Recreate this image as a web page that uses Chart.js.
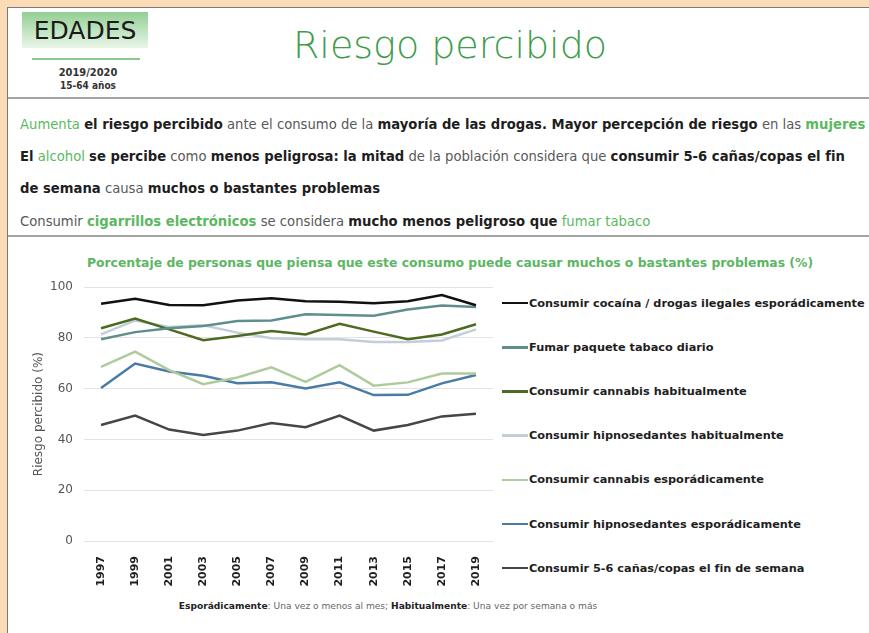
<!DOCTYPE html>
<html lang="es">
<head>
<meta charset="utf-8">
<title>Riesgo percibido</title>
<script src="https://cdn.jsdelivr.net/npm/chart.js@4.4.1/dist/chart.umd.min.js"></script>
<style>
  html, body { margin: 0; padding: 0; }
  body {
    width: 869px; height: 633px; overflow: hidden; position: relative;
    background: #fcdcb6; font-family: 'DejaVu Sans', sans-serif;
  }
  .panel {
    position: absolute; left: 7px; top: 7px; width: 900px; height: 700px;
    background: #fff; border-left: 1px solid #7a7a7a; border-top: 1px solid #7a7a7a;
  }
  .logo {
    position: absolute; left: 22px; top: 12px; width: 126px; height: 36px;
    background: linear-gradient(#93cf93, #e9f6e9);
    font-size: 25px; color: #1a1a1a; text-align: center; line-height: 37px;
  }
  .logo-line { position: absolute; left: 32px; top: 58px; width: 108px; height: 2px; background: #8cc78c; }
  .sub { position: absolute; left: 40px; width: 96px; text-align: center; color: #333; font-weight: bold;
    font-family: 'Liberation Sans Narrow', 'DejaVu Sans Condensed', sans-serif; }
  .title {
    position: absolute; left: 0; width: 900px; top: 23px; text-align: center;
    font-size: 38px; font-weight: 300; color: #3f9c4c;
  }
  .sep { position: absolute; left: 8px; width: 861px; height: 2px; background: #a3a3a3; }
  .txt { position: absolute; left: 20px; font-size: 13.2px; color: #595959; white-space: nowrap; }
  .txt b { color: #1e1e1e; }
  .txt .g { color: #5bb85f; }
  .txt b.g { color: #5bb85f; }
  .ctitle {
    position: absolute; left: 0; width: 900px; top: 255px; text-align: center;
    font-size: 12.4px; font-weight: bold; color: #5cb663; white-space: nowrap;
  }
  #wrap { position: absolute; left: 20px; top: 269px; width: 480px; height: 319px; }
  #legend { position: absolute; left: 502px; top: 281px; }
  .li { height: 44.2px; display: flex; align-items: center; font-size: 11.3px; font-weight: bold; color: #1e1e1e; white-space: nowrap; }
  .li span.sw { display: inline-block; width: 26px; height: 2.5px; margin-right: 1px; }
  .foot { position: absolute; left: 0; width: 776px; top: 601px; text-align: center; font-size: 9.1px; color: #666; white-space: nowrap; }
  .foot b { color: #222; }
</style>
</head>
<body>
<div class="panel"></div>
<div class="logo">EDADES</div>
<div class="logo-line"></div>
<div class="sub" style="top:66px;font-size:11px;">2019/2020</div>
<div class="sub" style="top:80px;font-size:10px;">15-64 años</div>
<div class="title">Riesgo percibido</div>
<div class="sep" style="top:97px;"></div>

<div class="txt" style="top:117px;"><span class="g">Aumenta</span> <b>el riesgo percibido</b> ante el consumo de la <b>mayoría de las drogas. Mayor percepción de riesgo</b> en las <b class="g">mujeres</b></div>
<div class="txt" style="top:149px;"><b>El</b> <span class="g">alcohol</span> <b>se percibe</b> como <b>menos peligrosa: la mitad</b> de la población considera que <b>consumir 5-6 cañas/copas el fin</b></div>
<div class="txt" style="top:181px;"><b>de semana</b> causa <b>muchos o bastantes problemas</b></div>
<div class="txt" style="top:214px;">Consumir <b class="g">cigarrillos electrónicos</b> se considera <b>mucho menos peligroso que</b> <span class="g">fumar tabaco</span></div>
<div class="sep" style="top:235px;"></div>

<div class="ctitle">Porcentaje de personas que piensa que este consumo puede causar muchos o bastantes problemas (%)</div>
<div id="wrap"><canvas id="chart"></canvas></div>
<div id="legend"></div>
<div class="foot"><b>Esporádicamente</b>: Una vez o menos al mes; <b>Habitualmente</b>: Una vez por semana o más</div>

<script>
const years = ['1997', '1999', '2001', '2003', '2005', '2007', '2009', '2011', '2013', '2015', '2017', '2019'];

const cocaina = [93.5, 95.4, 93.0, 92.9, 94.8, 95.6, 94.5, 94.3, 93.7, 94.5, 96.9, 92.9];
const tabacoDiario = [79.5, 82.3, 83.8, 84.7, 86.7, 86.9, 89.3, 89.0, 88.8, 91.2, 92.8, 92.2];
const cannabisHab = [83.8, 87.6, 83.4, 79.1, 80.8, 82.7, 81.4, 85.6, 82.5, 79.5, 81.4, 85.4];
const hipnoHab = [81.4, 86.9, 84.3, 85.0, 82.1, 79.9, 79.5, 79.5, 78.4, 78.4, 79.0, 83.4];
const cannabisEsp = [68.6, 74.6, 67.3, 61.8, 64.4, 68.4, 62.7, 69.3, 61.2, 62.5, 66.0, 66.0];
const hipnoEsp = [60.3, 69.9, 66.8, 65.1, 62.2, 62.5, 60.1, 62.5, 57.5, 57.6, 62.1, 65.4];
const alcoholFinde = [45.7, 49.4, 43.9, 41.8, 43.5, 46.5, 44.8, 49.4, 43.5, 45.7, 49.1, 50.1];

const seriesNames = [
  'Consumir cocaína / drogas ilegales esporádicamente',
  'Fumar paquete tabaco diario',
  'Consumir cannabis habitualmente',
  'Consumir hipnosedantes habitualmente',
  'Consumir cannabis esporádicamente',
  'Consumir hipnosedantes esporádicamente',
  'Consumir 5-6 cañas/copas el fin de semana'
];
const seriesData = [cocaina, tabacoDiario, cannabisHab, hipnoHab, cannabisEsp, hipnoEsp, alcoholFinde];
const seriesColors = ['#111111', '#5e8f8c', '#4c6a20', '#c3ced9', '#aecb9b', '#4a7ba4', '#4a4545'];

const FONT = "'DejaVu Sans', sans-serif";

const chart = new Chart(document.getElementById('chart'), {
  type: 'line',
  data: {
    labels: years,
    datasets: seriesNames.map((name, i) => ({
      label: name,
      data: seriesData[i],
      borderColor: seriesColors[i],
      backgroundColor: seriesColors[i],
      borderWidth: 2.5,
      pointRadius: 0,
      tension: 0
    }))
  },
  options: {
    responsive: true,
    maintainAspectRatio: false,
    animation: false,
    layout: { padding: { top: 7, right: 7, bottom: 0, left: 0 } },
    plugins: {
      legend: { display: false },
      tooltip: { enabled: false }
    },
    scales: {
      x: {
        offset: true,
        grid: { display: false },
        border: { display: false },
        ticks: {
          minRotation: 90, maxRotation: 90, padding: 7,
          color: '#1e1e1e', font: { family: FONT, size: 11, weight: 'bold' }
        },
        afterFit: (scale) => { scale.height = 47; }
      },
      y: {
        min: 0, max: 100,
        grid: { color: '#e3e3e3', drawTicks: false },
        border: { display: false },
        ticks: { stepSize: 20, padding: 11, color: '#555', font: { family: FONT, size: 12 } },
        title: {
          display: true, text: 'Riesgo percibido (%)', color: '#555',
          font: { family: FONT, size: 12 }, padding: { top: 12, bottom: 0 }
        },
        afterFit: (scale) => { scale.width = 64; }
      }
    }
  }
});

// legend built from the chart's own legend items
const legendEl = document.getElementById('legend');
chart.options.plugins.legend.labels.generateLabels(chart).forEach(item => {
  const row = document.createElement('div');
  row.className = 'li';
  const sw = document.createElement('span');
  sw.className = 'sw';
  sw.style.background = item.strokeStyle;
  row.appendChild(sw);
  row.appendChild(document.createTextNode(item.text));
  legendEl.appendChild(row);
});
</script>
</body>
</html>
